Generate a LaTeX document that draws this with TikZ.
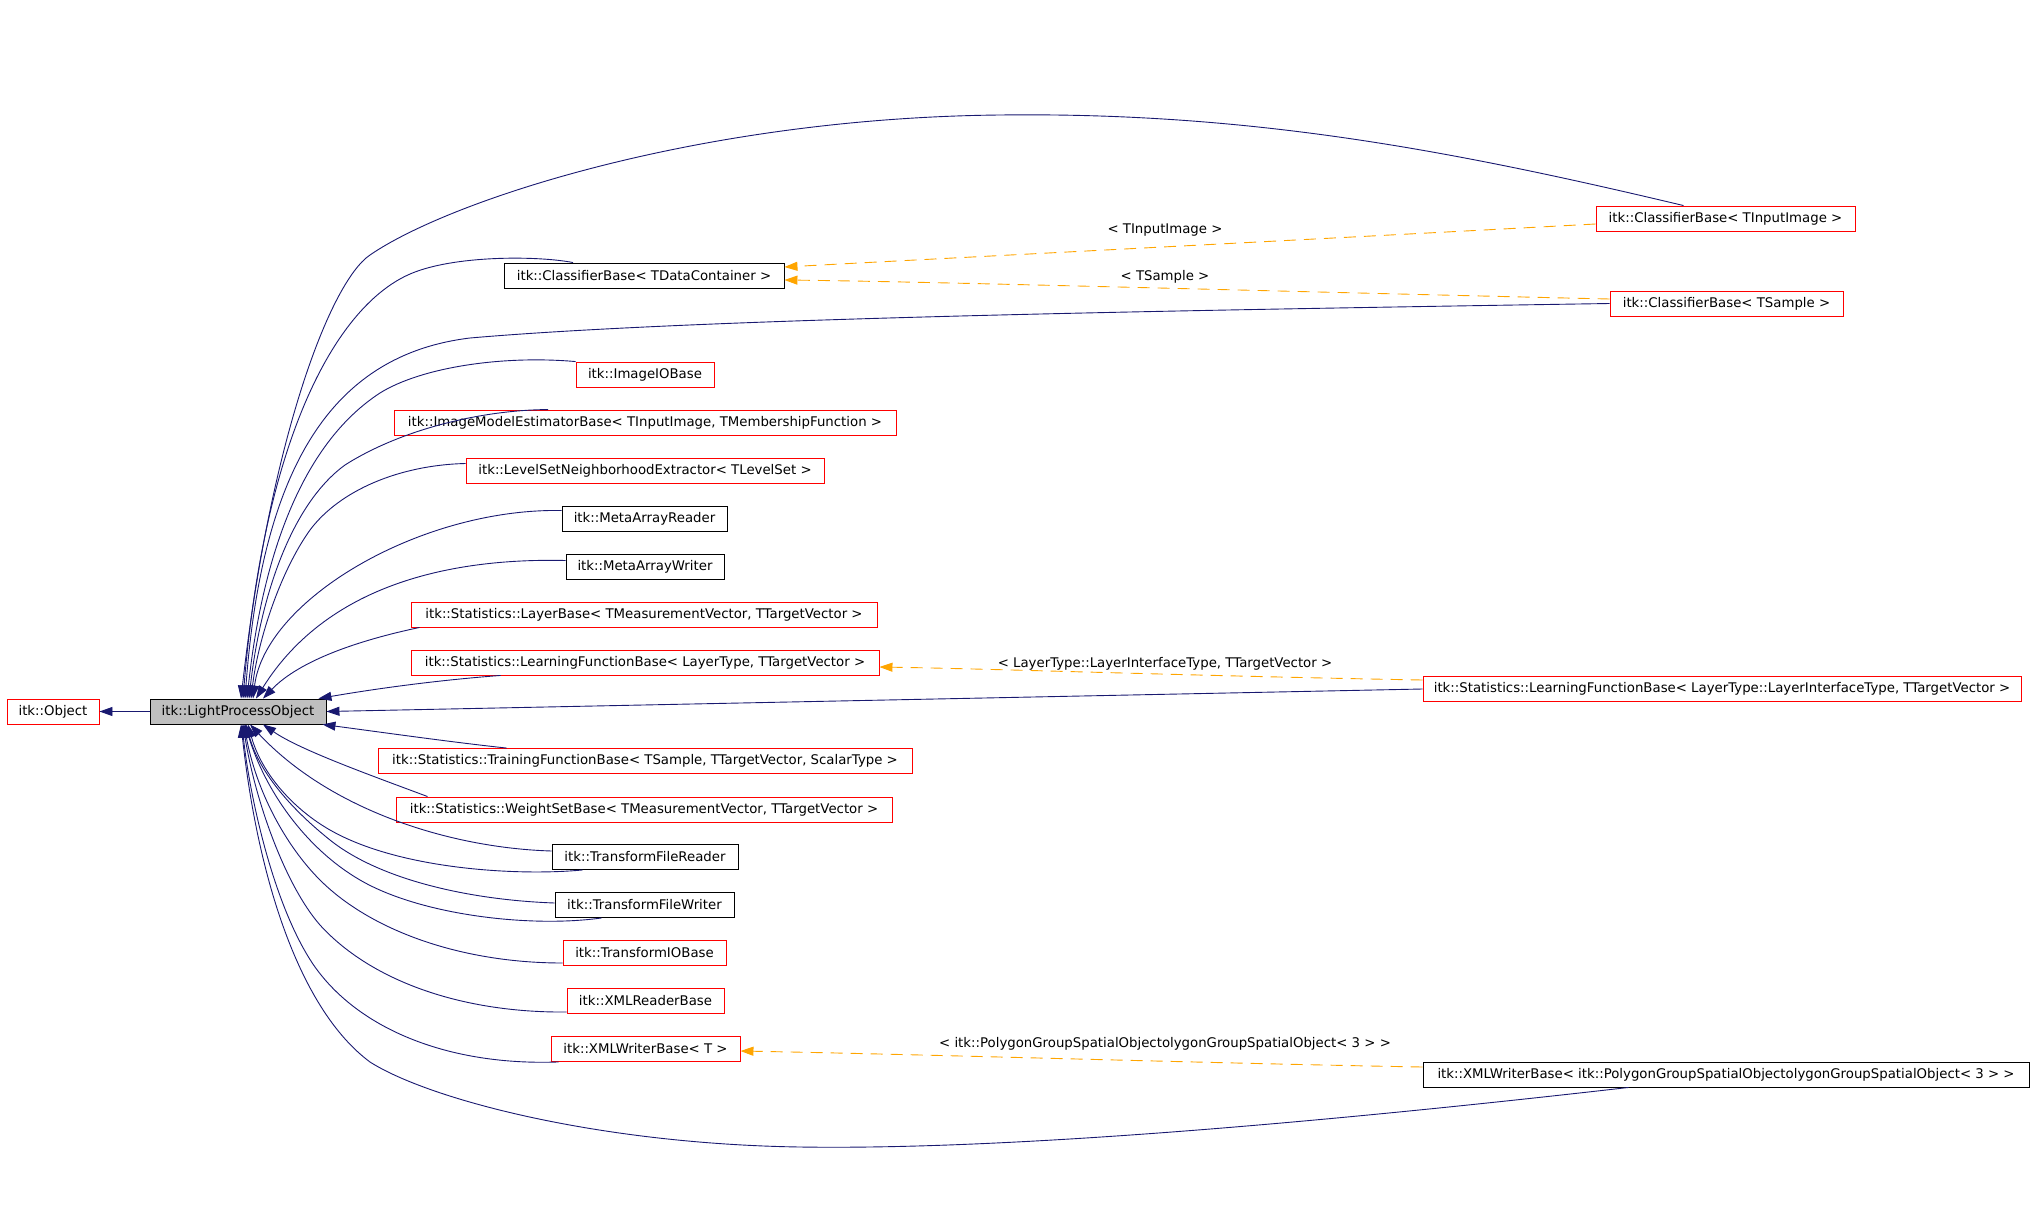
\documentclass[tikz,border=0pt]{standalone}
\usepackage{fontspec}
\setmainfont{DejaVu Sans}
\usepackage{tikz}
\usetikzlibrary{arrows.meta}
\definecolor{edgeblue}{RGB}{25,25,112}
\definecolor{tmplorange}{RGB}{255,165,0}

\begin{document}
\begin{tikzpicture}[x=1pt, y=-1pt,
  every node/.style={font=\fontsize{13.3}{15}\selectfont},
  cls/.style={draw=red, line width=0.9pt, minimum height=25pt, inner sep=0pt},
  doc/.style={cls, draw=black},
  inh/.style={draw=edgeblue, line width=0.9pt, -{Triangle[length=13pt, width=9pt]}},
  tmpl/.style={draw=tmplorange, line width=0.9pt, dash pattern=on 12pt off 8pt, -{Triangle[length=13pt, width=9pt]}},
  lbl/.style={inner sep=1pt}]
  \useasboundingbox (0,0) rectangle (2035,1215);
  % classes
  \node[cls, minimum width=92pt] (obj) at (53,711.5) {itk::Object};
  \node[doc, minimum width=176pt, fill=gray!50] (lpo) at (238,711.5) {itk::LightProcessObject};
  \node[cls, minimum width=259pt] (cbii) at (1725.5,218.5) {itk::ClassifierBase< TInputImage >};
  \node[doc, minimum width=280pt] (cbdc) at (644,275.5) {itk::ClassifierBase< TDataContainer >};
  \node[cls, minimum width=233pt] (cbs) at (1726.5,303.5) {itk::ClassifierBase< TSample >};
  \node[cls, minimum width=138pt] (iio) at (645,374.5) {itk::ImageIOBase};
  \node[cls, minimum width=502pt] (imeb) at (645,422.5) {itk::ImageModelEstimatorBase< TInputImage, TMembershipFunction >};
  \node[cls, minimum width=358pt] (lsne) at (645,470.5) {itk::LevelSetNeighborhoodExtractor< TLevelSet >};
  \node[doc, minimum width=165pt] (mar) at (644.5,518.5) {itk::MetaArrayReader};
  \node[doc, minimum width=158pt] (maw) at (645,566.5) {itk::MetaArrayWriter};
  \node[cls, minimum width=466pt] (lb) at (644,614.5) {itk::Statistics::LayerBase< TMeasurementVector, TTargetVector >};
  \node[cls, minimum width=468pt] (lfb) at (645,662.5) {itk::Statistics::LearningFunctionBase< LayerType, TTargetVector >};
  \node[cls, minimum width=598pt] (lfbl) at (1722,689) {itk::Statistics::LearningFunctionBase< LayerType::LayerInterfaceType, TTargetVector >};
  \node[cls, minimum width=534pt] (tfb) at (645,761) {itk::Statistics::TrainingFunctionBase< TSample, TTargetVector, ScalarType >};
  \node[cls, minimum width=496pt] (wsb) at (644,809.5) {itk::Statistics::WeightSetBase< TMeasurementVector, TTargetVector >};
  \node[doc, minimum width=186pt] (tfr) at (645,857) {itk::TransformFileReader};
  \node[doc, minimum width=179pt] (tfw) at (644.5,905) {itk::TransformFileWriter};
  \node[cls, minimum width=163pt] (tiob) at (644.5,953) {itk::TransformIOBase};
  \node[cls, minimum width=157pt] (xrb) at (645.5,1001) {itk::XMLReaderBase};
  \node[cls, minimum width=189pt] (xwbt) at (645.5,1049) {itk::XMLWriterBase< T >};
  \node[doc, minimum width=606pt] (xwbp) at (1726,1074.5) {itk::XMLWriterBase< itk::PolygonGroupSpatialObjectolygonGroupSpatialObject< 3 > >};
  % inheritance
  \draw[inh] (lpo.west) -- (obj.east);
  \draw[inh] ([xshift=-42pt]cbii.north) .. controls (1450,150) and (1250,112) .. (1000,115) .. controls (700,118) and (450,200) .. (370,255) .. controls (330,282) and (270,440) .. ([xshift=3pt]lpo.north);
  \draw[inh] ([xshift=-71pt]cbdc.north) .. controls (540,256) and (460,255) .. (415,272) .. controls (340,300) and (265,430) .. ([xshift=5pt]lpo.north);
  \draw[inh] (cbs.west) .. controls (1200,310) and (700,318) .. (470,338) .. controls (330,355) and (262,470) .. ([xshift=7pt]lpo.north);
  \draw[inh] (iio.north west) .. controls (500,355) and (420,368) .. (380,393) .. controls (300,445) and (262,560) .. ([xshift=9pt]lpo.north);
  \draw[inh] ([xshift=-97pt]imeb.north) .. controls (480,410) and (400,430) .. (345,465) .. controls (290,505) and (260,600) .. ([xshift=11pt]lpo.north);
  \draw[inh] ([yshift=7pt]lsne.west) .. controls (400,465) and (340,490) .. (310,530) .. controls (280,572) and (258,640) .. ([xshift=13pt]lpo.north);
  \draw[inh] ([yshift=8pt]mar.west) .. controls (420,508) and (265,600) .. ([xshift=15pt]lpo.north);
  \draw[inh] ([yshift=6pt]maw.west) .. controls (460,558) and (330,580) .. ([xshift=18pt]lpo.north);
  \draw[inh] ([xshift=9pt]lb.south west) .. controls (360,640) and (300,660) .. ([xshift=25pt]lpo.north);
  \draw[inh] ([xshift=90pt]lfb.south west) .. controls (440,680) and (380,688) .. ([xshift=-8pt]lpo.north east);
  \draw[inh] (lfbl.west) -- (lpo.east);
  \draw[inh] ([xshift=129pt]tfb.north west) .. controls (450,742) and (380,732) .. ([xshift=-4pt]lpo.south east);
  \draw[inh] ([xshift=32pt]wsb.north west) .. controls (370,775) and (300,750) .. ([xshift=25pt]lpo.south);
  \draw[inh] ([yshift=6pt]tfr.west) .. controls (450,848) and (330,810) .. ([xshift=12pt]lpo.south);
  \draw[inh] ([xshift=31pt]tfr.south west) .. controls (520,876) and (400,870) .. (330,830) .. controls (295,810) and (262,775) .. ([xshift=10pt]lpo.south);
  \draw[inh] ([yshift=2pt]tfw.west) .. controls (470,900) and (380,880) .. (330,840) .. controls (295,812) and (260,775) .. ([xshift=8pt]lpo.south);
  \draw[inh] ([xshift=47pt]tfw.south west) .. controls (530,928) and (420,915) .. (360,880) .. controls (305,848) and (265,790) .. ([xshift=7pt]lpo.south);
  \draw[inh] ([yshift=-10pt]tiob.west) .. controls (460,963) and (370,930) .. (320,880) .. controls (285,845) and (256,790) .. ([xshift=6pt]lpo.south);
  \draw[inh] ([yshift=-11pt]xrb.west) .. controls (460,1013) and (370,980) .. (320,925) .. controls (285,885) and (255,800) .. ([xshift=5pt]lpo.south);
  \draw[inh] ([xshift=8pt]xwbt.south west) .. controls (450,1066) and (360,1030) .. (315,967) .. controls (275,910) and (250,800) .. ([xshift=4pt]lpo.south);
  \draw[inh] ([xshift=206pt]xwbp.south west) .. controls (1300,1125) and (1000,1150) .. (800,1147) .. controls (600,1144) and (430,1100) .. (370,1062) .. controls (300,1010) and (258,880) .. ([xshift=3pt]lpo.south);
  % template instances
  \draw[tmpl] ([yshift=-5.5pt]cbii.west) .. controls (1300,240) and (950,258) .. ([yshift=8.5pt]cbdc.east);
  \node[lbl] (lii) at (1165,230) {< TInputImage >};
  \draw[tmpl] ([yshift=4.5pt]cbs.west) .. controls (1300,292) and (950,282) .. ([yshift=-4.5pt]cbdc.east);
  \node[lbl] (lts) at (1165,277) {< TSample >};
  \draw[tmpl] ([yshift=9pt]lfbl.west) .. controls (1200,676) and (1000,669) .. ([yshift=-4.5pt]lfb.east);
  \node[lbl] (llt) at (1165,664) {< LayerType::LayerInterfaceType, TTargetVector >};
  \draw[tmpl] ([yshift=7.5pt]xwbp.west) .. controls (1200,1063) and (950,1055) .. ([yshift=-2pt]xwbt.east);
  \node[lbl] (lpg) at (1165,1044) {< itk::PolygonGroupSpatialObjectolygonGroupSpatialObject< 3 > >};
\end{tikzpicture}
\end{document}
